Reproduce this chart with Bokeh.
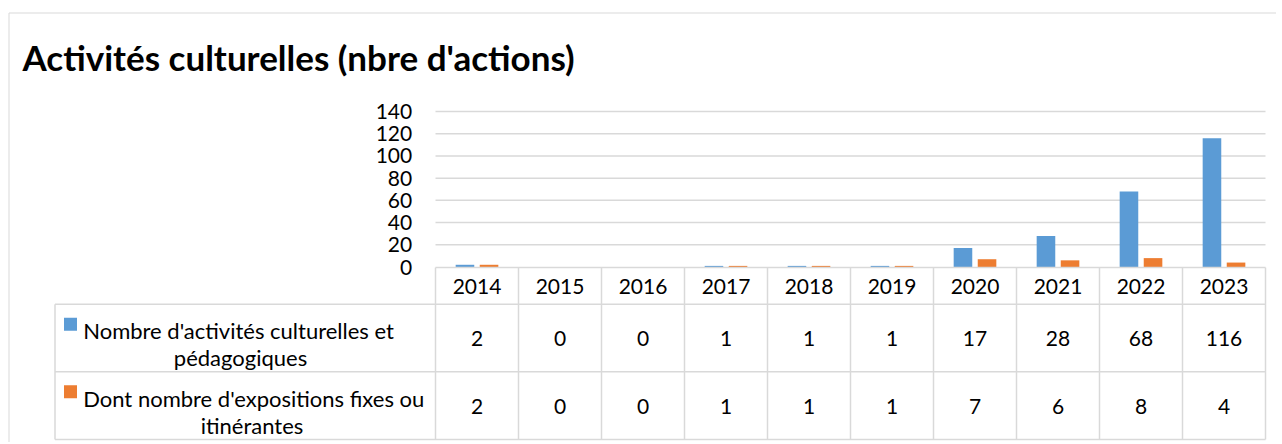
from bokeh.plotting import figure
from bokeh.models import Range1d, ColumnDataSource
from bokeh.core.properties import value
from bokeh.embed import file_html
from bokeh.resources import INLINE

# ---------------- data ----------------
years = ["2014", "2015", "2016", "2017", "2018", "2019", "2020", "2021", "2022", "2023"]
activites = [2, 0, 0, 1, 1, 1, 17, 28, 68, 116]
expositions = [2, 0, 0, 1, 1, 1, 7, 6, 8, 4]
y_ticks = [0, 20, 40, 60, 80, 100, 120, 140]
series_names = [["Nombre d'activités culturelles et", "pédagogiques"],
                ["Dont nombre d'expositions fixes ou", "itinérantes"]]
title_text = "Activités culturelles (nbre d'actions)"

# ---------------- styles / layout (page pixels) ----------------
BLUE = "#5B9BD5"
ORANGE = "#ED7D31"
GRID = "#D9D9D9"
FONT = "Lato"
W, H = 1276, 442
OX, OY = 0, 0                      # page offset of the canvas
PLOT_L, PLOT_R = 435.0, 1265.0     # plot area / year columns
Y0_PX, YMAX_PX = 266.5, 111.0      # page y of value 0 and of the axis max
VMAX = 140.0
n = len(years)
CW = (PLOT_R - PLOT_L) / n

def px(page_x):
    """page x -> column units"""
    return (page_x - PLOT_L) / CW

ppu = (Y0_PX - YMAX_PX) / VMAX
val_bottom = -(OY + H - Y0_PX) / ppu
val_top = VMAX + (YMAX_PX - OY) / ppu

p = figure(width=W, height=H,
           x_range=Range1d(px(OX), px(OX + W)), y_range=Range1d(OY + H, OY),
           x_axis_location=None, y_axis_location=None,
           min_border_left=0, min_border_right=0, min_border_top=0, min_border_bottom=0,
           output_backend="svg", toolbar_location=None)
p.extra_y_ranges = {"val": Range1d(val_bottom, val_top)}
p.grid.visible = False
p.outline_line_color = None

# outer chart border (left and top edges visible)
p.segment(x0=[px(8.5), px(8.5)], y0=[12.5, 12.5], x1=[px(8.5), px(OX + W)], y1=[OY + H, 12.5],
          line_color=GRID, line_width=1)

# title
p.text(x=[px(22)], y=[56.7], text=[title_text], text_font=value(FONT), text_font_size="35px",
       text_font_style="bold", text_color="#000000", text_align="left", text_baseline="alphabetic")

# horizontal gridlines
p.segment(x0=[0] * (len(y_ticks) - 1), x1=[n] * (len(y_ticks) - 1),
          y0=y_ticks[1:], y1=y_ticks[1:], y_range_name="val",
          line_color=GRID, line_width=1.5)

# y tick labels
p.text(x=[px(411.7)] * len(y_ticks), y=y_ticks, text=[str(t) for t in y_ticks], y_range_name="val",
       text_font=value(FONT), text_font_size="21px", text_color="#000000",
       text_align="right", text_baseline="middle")

# bars
idx = list(range(n))
src = ColumnDataSource(dict(xa=[i + 0.5 - 0.145 for i in idx], xb=[i + 0.5 + 0.145 for i in idx],
                            a=activites, b=expositions))
p.vbar(x="xa", top="a", bottom=0, width=0.224, source=src, y_range_name="val",
       fill_color=BLUE, line_color=None)
p.vbar(x="xb", top="b", bottom=0, width=0.224, source=src, y_range_name="val",
       fill_color=ORANGE, line_color=None)

# ---------------- data table ----------------
lab_left = px(54.5)
top_y, row1_y, row2_y, bot_y = 267.0, 303.7, 371.3, 439.0

p.segment(x0=list(range(n + 1)), y0=[top_y] * (n + 1), x1=list(range(n + 1)), y1=[bot_y] * (n + 1),
          line_color=GRID, line_width=1.5)
p.segment(x0=[0], y0=[top_y], x1=[n], y1=[top_y], line_color=GRID, line_width=1.5)
p.segment(x0=[lab_left] * 3, y0=[row1_y, row2_y, bot_y], x1=[n] * 3, y1=[row1_y, row2_y, bot_y],
          line_color=GRID, line_width=1.5)
p.segment(x0=[lab_left], y0=[row1_y], x1=[lab_left], y1=[bot_y], line_color=GRID, line_width=1.5)

centers = [i + 0.5 for i in idx]
txt = dict(text_font=value(FONT), text_font_size="21px", text_color="#000000",
           text_align="center", text_baseline="middle")
p.text(x=centers, y=[285.5] * n, text=years, **txt)
p.text(x=centers, y=[338.0] * n, text=[str(v) for v in activites], **txt)
p.text(x=centers, y=[405.7] * n, text=[str(v) for v in expositions], **txt)

# legend keys
p.scatter(x=[px(70), px(70)], y=[323.7, 391.3], marker="square", size=13,
          fill_color=[BLUE, ORANGE], line_color=None)
# series labels
lab = dict(text_font=value(FONT), text_font_size="22px", text_color="#000000",
           text_baseline="alphabetic")
p.text(x=[px(82.7), px(82.7)], y=[330.0, 397.6], text=[series_names[0][0], series_names[1][0]],
       text_align="left", **lab)
p.text(x=[px(240), px(251.5)], y=[357.0, 424.6], text=[series_names[0][1], series_names[1][1]],
       text_align="center", **lab)

open("out.html", "w").write(file_html(p, INLINE))
